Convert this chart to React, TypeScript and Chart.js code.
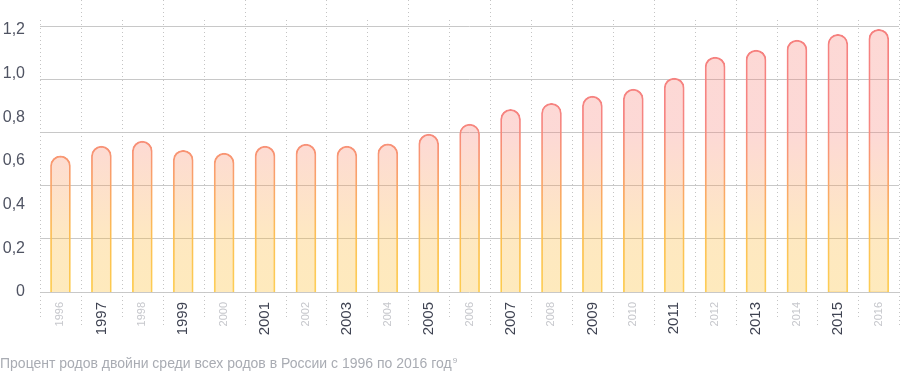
import React, { useEffect, useRef } from 'react';
import { Chart, registerables } from 'chart.js';

Chart.register(...registerables);

const years = ['1996', '1997', '1998', '1999', '2000', '2001', '2002', '2003', '2004', '2005', '2006', '2007', '2008', '2009', '2010', '2011', '2012', '2013', '2014', '2015', '2016'];
const twinShare = [0.623, 0.668, 0.691, 0.649, 0.636, 0.668, 0.677, 0.668, 0.678, 0.723, 0.769, 0.836, 0.864, 0.897, 0.929, 0.98, 1.076, 1.108, 1.154, 1.18, 1.203];
const yTickValues = [0, 0.2, 0.4, 0.6, 0.8, 1.0, 1.2];
const yMax = 1.218;
const gridLevels = [0, 0.2436, 0.4872, 0.7308, 0.9744, 1.218];
const caption = 'Процент родов двойни среди всех родов в России с 1996 по 2016 год';
const footnote = '9';

const FONT = '"Liberation Sans", Arial, Helvetica, sans-serif';

function vGrad(ctx: CanvasRenderingContext2D, area: any, stops: [number, string][]) {
  const g = ctx.createLinearGradient(0, area.bottom, 0, area.top);
  stops.forEach(([o, c]) => g.addColorStop(o, c));
  return g;
}

const dottedLines = {
  id: 'dottedLines',
  beforeDatasetsDraw(chart: any) {
    const { ctx, chartArea, scales } = chart;
    const x = scales.x;
    ctx.save();
    ctx.strokeStyle = '#c4c4c4';
    ctx.lineWidth = 1;
    ctx.setLineDash([1, 3]);
    for (let i = 0; i <= years.length; i++) {
      const px = Math.round(x.getPixelForValue(i - 0.5)) + 0.5;
      const long = i % 2 === 1;
      const y0 = long ? chartArea.top - 26 : chartArea.top - 6;
      const y1 = long ? chartArea.bottom + 36 : chartArea.bottom + 26;
      ctx.beginPath();
      ctx.moveTo(px, y0);
      ctx.lineTo(px, y1);
      ctx.stroke();
    }
    ctx.restore();
  },
};

export default function App() {
  const ref = useRef<HTMLCanvasElement | null>(null);

  useEffect(() => {
    document.body.style.margin = '0';
    if (!ref.current) return;
    const chart = new Chart(ref.current, {
      type: 'bar',
      data: {
        labels: years,
        datasets: [
          {
            data: twinShare,
            yAxisID: 'y',
            barThickness: 20,
            borderWidth: 1.1,
            borderSkipped: 'bottom',
            borderRadius: { topLeft: 10, topRight: 10, bottomLeft: 0, bottomRight: 0 },
            backgroundColor: (c: any) => {
              const { ctx, chartArea } = c.chart;
              if (!chartArea) return 'rgba(0,0,0,0)';
              return vGrad(ctx, chartArea, [
                [0, 'rgba(252,185,35,0.3)'],
                [0.2, 'rgba(252,180,50,0.3)'],
                [0.6, 'rgba(248,128,118,0.3)'],
                [1, 'rgba(248,128,118,0.3)'],
              ]);
            },
            borderColor: (c: any) => {
              const { ctx, chartArea } = c.chart;
              if (!chartArea) return '#f58080';
              return vGrad(ctx, chartArea, [
                [0, '#fdd05a'],
                [0.2, '#fcc258'],
                [0.45, '#f9a06e'],
                [0.65, '#f68583'],
                [1, '#f58080'],
              ]);
            },
          },
        ],
      },
      options: {
        animation: false,
        responsive: false,
        layout: { padding: { top: 26, left: 0, right: 0, bottom: 0 } },
        plugins: { legend: { display: false }, tooltip: { enabled: false }, title: { display: false } },
        scales: {
          x: {
            offset: true,
            grid: { display: false, drawTicks: false },
            border: { display: false },
            afterFit: (s: any) => {
              s.height = 66;
            },
            ticks: {
              autoSkip: false,
              maxRotation: 90,
              minRotation: 90,
              padding: 10,
              font: (c: any) =>
                c.index % 2 === 1
                  ? { family: FONT, size: 15 }
                  : { family: FONT, size: 11 },
              color: (c: any) => (c.index % 2 === 1 ? '#3f4352' : '#c6c7cc'),
            },
          },
          y: {
            position: 'left',
            min: 0,
            max: yMax,
            grid: { display: false, drawTicks: false },
            border: { display: false },
            afterFit: (s: any) => {
              s.width = 40;
            },
            afterBuildTicks: (s: any) => {
              s.ticks = yTickValues.map((v) => ({ value: v }));
            },
            ticks: {
              padding: 15,
              font: { family: FONT, size: 16 },
              color: '#4f5362',
              callback: (v: any) => (Number(v) === 0 ? '0' : Number(v).toFixed(1).replace('.', ',')),
            },
          },
          y2: {
            position: 'right',
            min: 0,
            max: yMax,
            grid: { display: true, drawTicks: false, color: '#c8c8c8', lineWidth: 1 },
            border: { display: false },
            afterFit: (s: any) => {
              s.width = 0;
            },
            afterBuildTicks: (s: any) => {
              s.ticks = gridLevels.map((v) => ({ value: v }));
            },
            ticks: { display: false },
          },
        },
      },
      plugins: [dottedLines],
    });
    return () => chart.destroy();
  }, []);

  return (
    <div style={{ position: 'relative', width: 902, height: 374, overflow: 'hidden' }}>
      <canvas ref={ref} width={902} height={358} style={{ display: 'block' }} />
      <div
        style={{
          position: 'absolute',
          left: 0,
          top: 355,
          fontFamily: FONT,
          fontSize: 14,
          lineHeight: '16px',
          color: '#a9acb3',
          whiteSpace: 'nowrap',
        }}
      >
        {caption}
        <span style={{ fontSize: 8, position: 'relative', top: -5, marginLeft: 1 }}>{footnote}</span>
      </div>
    </div>
  );
}
